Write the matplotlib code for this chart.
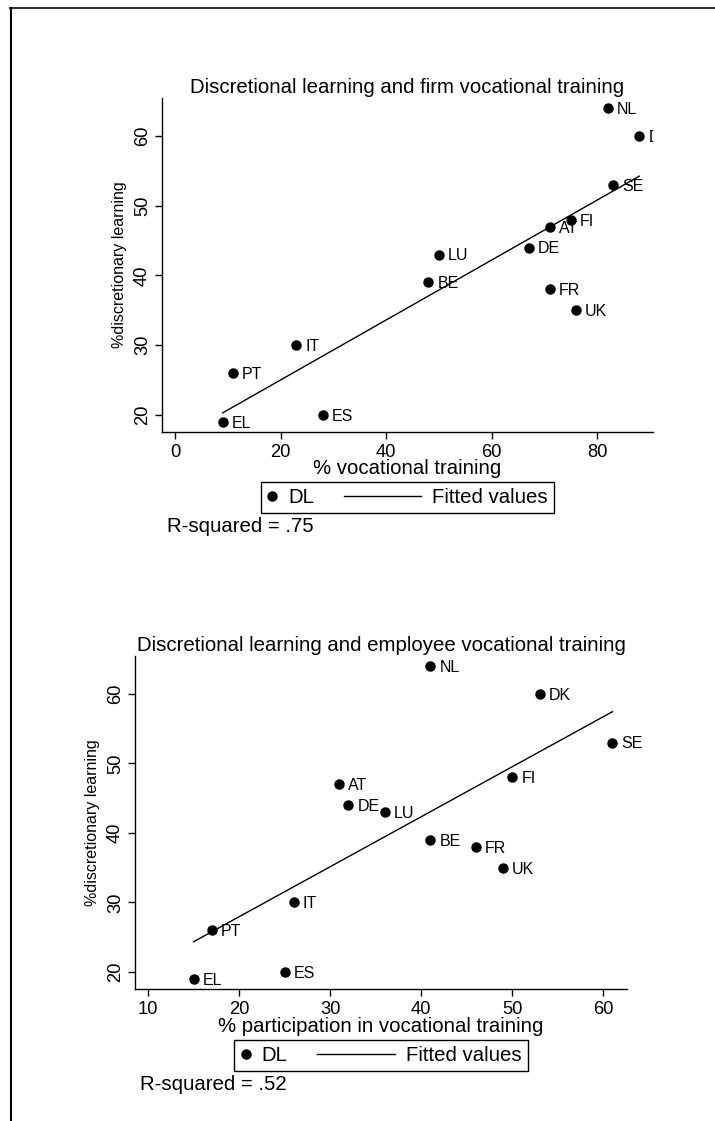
import numpy as np
import matplotlib
matplotlib.use('Agg')
import matplotlib.pyplot as plt
from matplotlib.lines import Line2D
from matplotlib.legend_handler import HandlerLine2D

plt.rcParams['font.family'] = ['Liberation Sans', 'DejaVu Sans']

# data
countries = ['NL', 'DK', 'SE', 'FI', 'AT', 'DE', 'LU', 'BE', 'FR', 'UK', 'IT', 'PT', 'ES', 'EL']
dl = [64, 60, 53, 48, 47, 44, 43, 39, 38, 35, 30, 26, 20, 19]
firm_vt = [82, 88, 83, 75, 71, 67, 50, 48, 71, 76, 23, 11, 28, 9]
emp_vt = [41, 53, 61, 50, 31, 32, 36, 41, 46, 49, 26, 17, 25, 15]

top_xticks = [0, 20, 40, 60, 80]
bot_xticks = [10, 20, 30, 40, 50, 60]
yticks = [20, 30, 40, 50, 60]

W, H = 715, 1121
BIG = 14.7


def fx(px):
    return px / W


def fy(py):
    return 1 - py / H


class LongLine(HandlerLine2D):
    # line handle that reaches back into the column gap, like Stata's legend key
    def __init__(self, extra, **kw):
        super().__init__(**kw)
        self.extra = extra

    def create_artists(self, legend, orig_handle, xdescent, ydescent,
                       width, height, fontsize, trans):
        y = (height - ydescent) / 2
        line = Line2D([-xdescent - self.extra * fontsize, -xdescent + width], [y, y])
        self.update_prop(line, orig_handle, legend)
        line.set_transform(trans)
        return [line]


def panel(ax, x, title, xlabel, xticks, xlim, rsq, left_px, bottom_px, height_px,
          xlab_off, leg_off, rsq_off, clip):
    ax.plot(x, dl, 'o', color='black', ms=6.5, zorder=3)
    coef = np.polyfit(x, dl, 1)
    xs = np.array([min(x), max(x)])
    ax.plot(xs, np.polyval(coef, xs), color='black', lw=1)
    for c, xi, yi in zip(countries, x, dl):
        ax.annotate(c, (xi, yi), xytext=(6.5, -1), textcoords='offset points',
                    fontsize=11.5, ha='left', va='center', clip_on=clip)

    ax.set_xlim(*xlim)
    ax.set_ylim(17.55, 65.45)
    ax.set_xticks(xticks)
    ax.set_yticks(yticks)
    for s in ['top', 'right']:
        ax.spines[s].set_visible(False)
    for s in ['left', 'bottom']:
        ax.spines[s].set_linewidth(1.0)
    ax.tick_params(direction='out', length=5, width=1, labelsize=13.2, pad=3)
    ax.tick_params(axis='x', pad=3.5)
    ax.tick_params(axis='y', labelrotation=90)
    plt.setp(ax.get_yticklabels(), va='center')

    ax.set_title(title, fontsize=BIG, pad=3.6)
    ax.set_xlabel(xlabel, fontsize=BIG, va='center')
    ax.xaxis.set_label_coords(0.5, -xlab_off / height_px)
    ax.set_ylabel('%discretionary learning', fontsize=11.5, va='center')
    ax.yaxis.set_label_coords(-42.4 / 491, 0.5)

    h_dl = Line2D([], [], marker='o', ls='none', color='black', ms=6.5)
    h_fit = Line2D([], [], color='black', lw=1)
    leg = ax.legend([h_dl, h_fit], ['DL', 'Fitted values'], loc='upper center',
                    bbox_to_anchor=(0.5, -leg_off / height_px), ncol=2, fontsize=BIG,
                    frameon=True, fancybox=False, edgecolor='black', framealpha=1,
                    handlelength=0.5, handletextpad=0.55, columnspacing=4.74,
                    borderpad=0.3, borderaxespad=0,
                    handler_map={h_fit: LongLine(3.3)})
    leg.get_frame().set_linewidth(1.0)

    fig.text(fx(left_px + 5), fy(bottom_px + rsq_off), rsq, fontsize=BIG,
             ha='left', va='center')


fig = plt.figure(figsize=(W / 100, H / 100), dpi=100)

ax1 = fig.add_axes([fx(162), fy(432), (653 - 162) / W, (432 - 98) / H])
panel(ax1, firm_vt, 'Discretional learning and firm vocational training',
      '% vocational training', top_xticks, (-2.5, 90.6), 'R-squared = .75',
      162, 432, 334, 37, 50, 95, True)

ax2 = fig.add_axes([fx(135), fy(989), (627 - 135) / W, (989 - 656) / H])
panel(ax2, emp_vt, 'Discretional learning and employee vocational training',
      '% participation in vocational training', bot_xticks, (8.57, 62.6),
      'R-squared = .52', 135, 989, 333, 37.5, 51, 95, False)

# page frame lines (top and left edge)
fig.add_artist(Line2D([fx(10), 1], [fy(8), fy(8)], color='#333333', lw=1.5,
                      transform=fig.transFigure))
fig.add_artist(Line2D([fx(11), fx(11)], [fy(8), 0], color='black', lw=1.5,
                      transform=fig.transFigure))

fig.savefig('out.png', dpi=100)
